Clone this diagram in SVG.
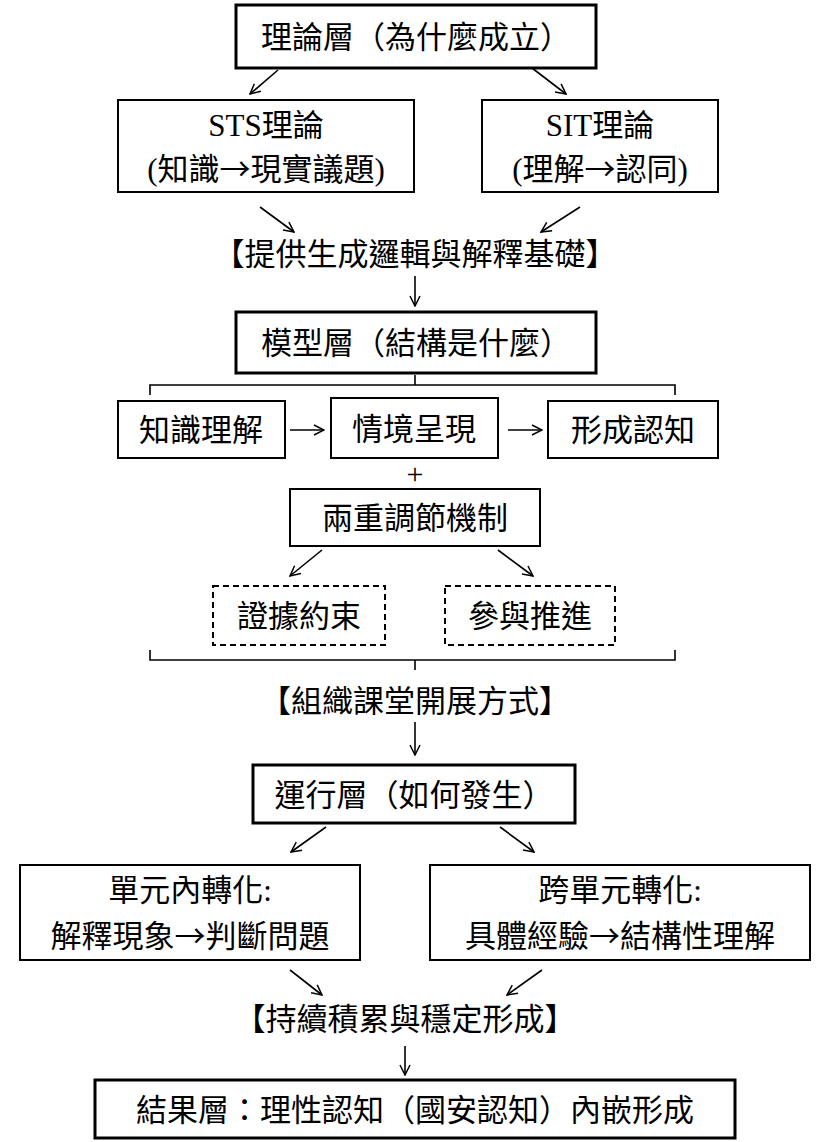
<svg xmlns="http://www.w3.org/2000/svg" width="830" height="1142" viewBox="0 0 830 1142">
<defs>
<marker id="a" viewBox="0 0 12 12" refX="11" refY="6" markerWidth="12" markerHeight="12" markerUnits="userSpaceOnUse" orient="auto"><path d="M1,1 L11,6 L1,11" fill="none" stroke="#000" stroke-width="1.5"/></marker>
</defs>
<style>
rect{fill:#fff;stroke:#000;stroke-width:2}
.d{stroke-dasharray:6,4}
.b{stroke-width:3}
text{font-family:"Liberation Serif","Noto Sans CJK TC",serif;font-size:31px;fill:#000;text-anchor:middle}
.ar{font-family:"Noto Sans CJK TC",sans-serif}
#c line,#c path{stroke:#000;stroke-width:1.6;fill:none}
</style>
<rect width="830" height="1142" style="fill:#fff;stroke:none"/>
<g id="c">
<line x1="278" y1="70" x2="250" y2="94" marker-end="url(#a)"/>
<line x1="532" y1="68" x2="566" y2="94" marker-end="url(#a)"/>
<line x1="260" y1="207" x2="294" y2="232" marker-end="url(#a)"/>
<line x1="580" y1="207" x2="541" y2="232" marker-end="url(#a)"/>
<line x1="415" y1="276" x2="415" y2="306" marker-end="url(#a)"/>
<path d="M150,395 V385 H675 V395 M415,385 V375"/>
<line x1="290" y1="430" x2="324" y2="430" marker-end="url(#a)"/>
<line x1="508" y1="430" x2="542" y2="430" marker-end="url(#a)"/>
<line x1="322" y1="550" x2="290" y2="576" marker-end="url(#a)"/>
<line x1="498" y1="550" x2="533" y2="576" marker-end="url(#a)"/>
<path d="M150,650 V660 H675 V650 M415,660 V670"/>
<line x1="415" y1="722" x2="415" y2="755" marker-end="url(#a)"/>
<line x1="326" y1="827" x2="291" y2="852" marker-end="url(#a)"/>
<line x1="500" y1="827" x2="534" y2="852" marker-end="url(#a)"/>
<line x1="290" y1="970" x2="322" y2="995" marker-end="url(#a)"/>
<line x1="542" y1="970" x2="507" y2="995" marker-end="url(#a)"/>
<line x1="405" y1="1046" x2="405" y2="1075" marker-end="url(#a)"/>
</g>
<g id="n1"><rect x="236" y="5" width="360" height="63" class="b"/><text x="416" y="48">理論層（為什麼成立）</text></g>
<g id="n2"><rect x="118" y="100" width="296" height="92"/><text x="266" y="136">STS理論</text><text x="266" y="180">(知識<tspan class="ar">→</tspan>現實議題)</text></g>
<g id="n3"><rect x="482" y="100" width="236" height="92"/><text x="600" y="136">SIT理論</text><text x="600" y="180">(理解<tspan class="ar">→</tspan>認同)</text></g>
<g id="t1"><text x="415" y="265">【提供生成邏輯與解釋基礎】</text></g>
<g id="n4"><rect x="236" y="312" width="360" height="61" class="b"/><text x="416" y="354">模型層（結構是什麼）</text></g>
<g id="n5"><rect x="118" y="401" width="167" height="57"/><text x="201" y="441">知識理解</text></g>
<g id="n6"><rect x="331" y="398" width="167" height="60"/><text x="414" y="440">情境呈現</text></g>
<g id="n7"><rect x="548" y="401" width="170" height="57"/><text x="633" y="441">形成認知</text></g>
<g id="t2"><text x="415" y="484" style="font-size:30px">+</text></g>
<g id="n8"><rect x="290" y="489" width="250" height="57"/><text x="415" y="529">兩重調節機制</text></g>
<g id="n9"><rect x="213" y="586" width="172" height="59" class="d"/><text x="299" y="627">證據約束</text></g>
<g id="n10"><rect x="445" y="586" width="170" height="59" class="d"/><text x="530" y="627">參與推進</text></g>
<g id="t3"><text x="415" y="712">【組織課堂開展方式】</text></g>
<g id="n11"><rect x="253" y="765" width="322" height="58" class="b"/><text x="414" y="806">運行層（如何發生）</text></g>
<g id="n12"><rect x="20" y="865" width="340" height="95"/><text x="190" y="901">單元內轉化:</text><text x="190" y="947">解釋現象<tspan class="ar">→</tspan>判斷問題</text></g>
<g id="n13"><rect x="430" y="865" width="380" height="95"/><text x="620" y="901">跨單元轉化:</text><text x="620" y="947">具體經驗<tspan class="ar">→</tspan>結構性理解</text></g>
<g id="t4"><text x="405" y="1030">【持續積累與穩定形成】</text></g>
<g id="n14"><rect x="95" y="1080" width="640" height="58" class="b"/><text x="415" y="1121">結果層：理性認知（國安認知）內嵌形成</text></g>
</svg>
